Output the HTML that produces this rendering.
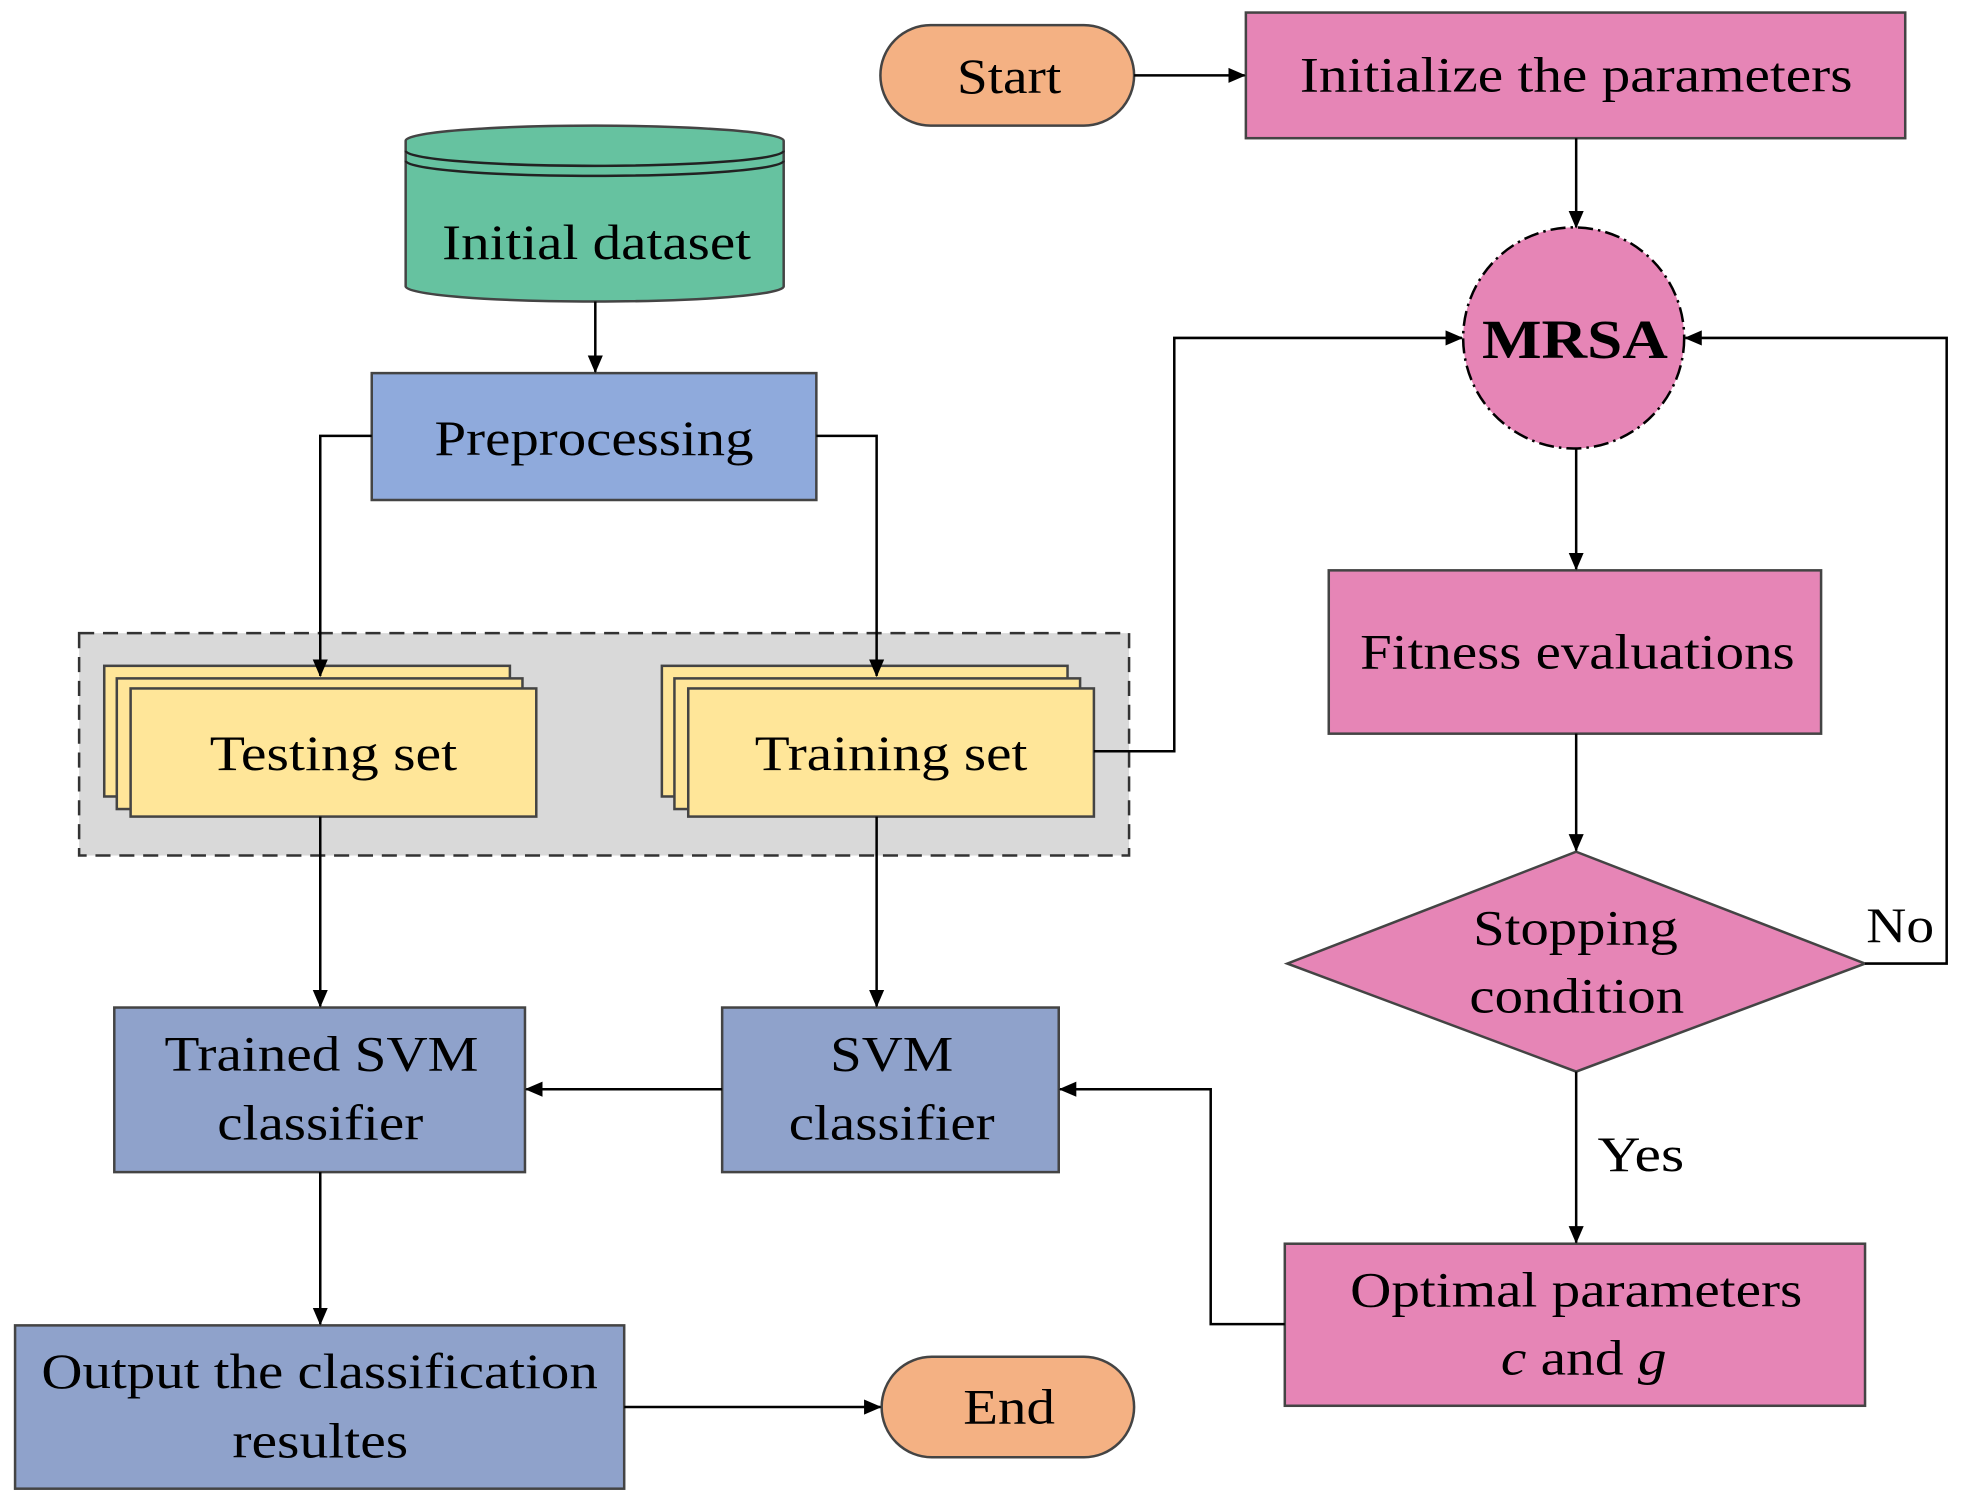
<!DOCTYPE html>
<html><head><meta charset="utf-8"><style>
html,body{margin:0;padding:0;background:#fff;}
svg{display:block;}
text{font-family:"Liberation Serif",serif;font-size:40px;fill:#000;}
</style></head><body>
<svg width="1963" height="1500" viewBox="0 0 1563 1194" preserveAspectRatio="none" xmlns="http://www.w3.org/2000/svg">
<defs>
<marker id="a" markerWidth="14" markerHeight="14" refX="13" refY="6" orient="auto" markerUnits="userSpaceOnUse" viewBox="0 0 14 12">
<path d="M0,0 L14,6 L0,12 z" fill="#000"/></marker>
</defs>
<rect x="63" y="504" width="836" height="177" fill="#d9d9d9" stroke="#333" stroke-width="2" stroke-dasharray="12,7"/>
<g stroke="#444" stroke-width="2">
<rect x="701" y="20" width="202" height="80" rx="40" fill="#f4b183"/>
<rect x="992" y="10" width="525" height="100" fill="#e685b6"/>
<path d="M323,112 V228 A150.5,12 0 0 0 624,228 V112 A150.5,12 0 0 0 323,112 Z" fill="#66c2a0"/>
<path d="M323,120 A150.5,12 0 0 0 624,120 M323,128 A150.5,12 0 0 0 624,128" fill="none" stroke="#222"/>
<rect x="296" y="297" width="354" height="101" fill="#8faadc"/>
<rect x="83" y="530" width="323" height="104" fill="#ffe699"/>
<rect x="93" y="540" width="323" height="104" fill="#ffe699"/>
<rect x="104" y="548" width="323" height="102" fill="#ffe699"/>
<rect x="527" y="530" width="323" height="104" fill="#ffe699"/>
<rect x="537" y="540" width="323" height="104" fill="#ffe699"/>
<rect x="548" y="548" width="323" height="102" fill="#ffe699"/>
<rect x="91" y="802" width="327" height="131" fill="#8fa2cb"/>
<rect x="575" y="802" width="268" height="131" fill="#8fa2cb"/>
<rect x="12" y="1055" width="485" height="130" fill="#8fa2cb"/>
<rect x="702" y="1080" width="201" height="80" rx="40" fill="#f4b183"/>
<circle cx="1253" cy="269" r="88" fill="#e685b6" stroke="#000" stroke-dasharray="12,4,2,4"/>
<rect x="1058" y="454" width="392" height="130" fill="#e685b6"/>
<path d="M1255,678 L1485,767 L1255,853 L1025,767 Z" fill="#e685b6"/>
<rect x="1023" y="990" width="462" height="129" fill="#e685b6"/>
</g>
<g stroke="#000" stroke-width="2" fill="none" marker-end="url(#a)">
<path d="M903,60 H991"/>
<path d="M1255,110 V181"/>
<path d="M474,240 V296"/>
<path d="M296,347 H255 V538"/>
<path d="M650,347 H698 V538"/>
<path d="M871,598 H935 V269 H1164"/>
<path d="M255,650 V801"/>
<path d="M698,650 V801"/>
<path d="M575,867 H419"/>
<path d="M255,933 V1054"/>
<path d="M497,1120 H701"/>
<path d="M1255,357 V453"/>
<path d="M1255,584 V677"/>
<path d="M1485,767 H1550 V269 H1342"/>
<path d="M1255,853 V989"/>
<path d="M1023,1054 H964 V867 H844"/>
</g>
<g>
<text x="762" y="74" textLength="83" lengthAdjust="spacingAndGlyphs">Start</text>
<text x="1035" y="73" textLength="440" lengthAdjust="spacingAndGlyphs">Initialize the parameters</text>
<text x="352" y="206" textLength="246" lengthAdjust="spacingAndGlyphs">Initial dataset</text>
<text x="346" y="362" textLength="254" lengthAdjust="spacingAndGlyphs">Preprocessing</text>
<text x="167" y="613" textLength="197" lengthAdjust="spacingAndGlyphs">Testing set</text>
<text x="601" y="613" textLength="217" lengthAdjust="spacingAndGlyphs">Training set</text>
<text x="131" y="852" textLength="250" lengthAdjust="spacingAndGlyphs">Trained SVM</text>
<text x="173" y="907" textLength="164" lengthAdjust="spacingAndGlyphs">classifier</text>
<text x="661" y="852" textLength="98" lengthAdjust="spacingAndGlyphs">SVM</text>
<text x="628" y="907" textLength="164" lengthAdjust="spacingAndGlyphs">classifier</text>
<text x="33" y="1105" textLength="443" lengthAdjust="spacingAndGlyphs">Output the classification</text>
<text x="185" y="1160" textLength="140" lengthAdjust="spacingAndGlyphs">resultes</text>
<text x="767" y="1133" textLength="73" lengthAdjust="spacingAndGlyphs">End</text>
<text x="1180" y="285" textLength="148" lengthAdjust="spacingAndGlyphs" font-weight="bold" style="font-size:44px">MRSA</text>
<text x="1083" y="532" textLength="346" lengthAdjust="spacingAndGlyphs">Fitness evaluations</text>
<text x="1173" y="752" textLength="163" lengthAdjust="spacingAndGlyphs">Stopping</text>
<text x="1170" y="806" textLength="171" lengthAdjust="spacingAndGlyphs">condition</text>
<text x="1486" y="750" textLength="54" lengthAdjust="spacingAndGlyphs">No</text>
<text x="1272" y="932" textLength="69" lengthAdjust="spacingAndGlyphs">Yes</text>
<text x="1075" y="1040" textLength="360" lengthAdjust="spacingAndGlyphs">Optimal parameters</text>
<text x="1195" y="1094" textLength="132" lengthAdjust="spacingAndGlyphs"><tspan font-style="italic">c</tspan> and <tspan font-style="italic">g</tspan></text>
</g>
</svg>
</body></html>
